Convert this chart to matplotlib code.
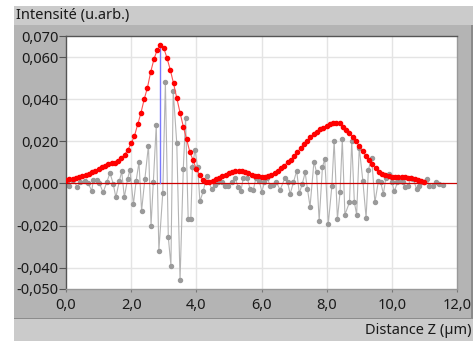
import matplotlib.pyplot as plt
import matplotlib.patches as patches
import numpy as np

# Envelope (red), sampled every 0.1 um
env_x = np.round(np.arange(0, 111) * 0.1, 2)
env_y = [0.0016, 0.0019, 0.0022, 0.0026, 0.0030, 0.0035, 0.0040, 0.0045, 0.0052, 0.0060,
         0.0070, 0.0078, 0.0085, 0.0090, 0.0095, 0.0099, 0.0105, 0.0120, 0.0137, 0.0160,
         0.0190, 0.0225, 0.0280, 0.0335, 0.0400, 0.0455, 0.0530, 0.0590, 0.0635, 0.0655,
         0.0643, 0.0595, 0.0540, 0.0475, 0.0405, 0.0336, 0.0270, 0.0210, 0.0150, 0.0110,
         0.0068, 0.0040, 0.0016, 0.0006, 0.0008, 0.0013, 0.0020, 0.0027, 0.0035, 0.0042,
         0.0049, 0.0054, 0.0057, 0.0058, 0.0057, 0.0054, 0.0048, 0.0042, 0.0037, 0.0034,
         0.0032, 0.0032, 0.0034, 0.0040, 0.0048, 0.0060, 0.0072, 0.0085, 0.0100, 0.0112,
         0.0130, 0.0148, 0.0168, 0.0185, 0.0203, 0.0220, 0.0233, 0.0245, 0.0256, 0.0265,
         0.0273, 0.0280, 0.0285, 0.0289, 0.0288, 0.0270, 0.0252, 0.0238, 0.0222, 0.0200,
         0.0178, 0.0155, 0.0132, 0.0110, 0.0090, 0.0072, 0.0055, 0.0045, 0.0038, 0.0033,
         0.0031, 0.0030, 0.0029, 0.0029, 0.0029, 0.0028, 0.0026, 0.0022, 0.0018, 0.0012,
         0.0008]

# Interferogram (gray)
sig_x = [0.02, 0.10, 0.21, 0.35, 0.43, 0.58, 0.68, 0.79, 0.84, 0.94,
         1.02, 1.14, 1.25, 1.35, 1.45, 1.53, 1.64, 1.71, 1.79, 1.89,
         1.96, 2.07, 2.15, 2.24, 2.32, 2.42, 2.53, 2.61, 2.68, 2.77,
         2.85, 2.97, 3.05, 3.14, 3.22, 3.29, 3.40, 3.50, 3.60, 3.67,
         3.75, 3.83, 3.88, 3.96, 4.04, 4.11, 4.21, 4.32, 4.47, 4.57,
         4.67, 4.78, 4.88, 4.98, 5.09, 5.19, 5.29, 5.37, 5.44, 5.56,
         5.65, 5.75, 5.83, 5.93, 6.01, 6.09, 6.18, 6.26, 6.36, 6.45,
         6.57, 6.72, 6.80, 6.88, 6.98, 7.08, 7.16, 7.25, 7.34, 7.41,
         7.49, 7.61, 7.69, 7.77, 7.87, 7.94, 8.05, 8.16, 8.23, 8.33,
         8.41, 8.48, 8.56, 8.70, 8.77, 8.85, 8.92, 9.00, 9.11, 9.21,
         9.28, 9.38, 9.48, 9.59, 9.66, 9.74, 9.82, 9.91, 10.00, 10.08,
         10.17, 10.25, 10.33, 10.40, 10.51, 10.58, 10.66, 10.76, 10.84, 10.92,
         10.99, 11.07, 11.15, 11.25, 11.36, 11.46, 11.58]
sig_y = [0.0000, -0.0014, 0.0016, -0.0016, 0.0005, 0.0013, 0.0000, -0.0035, 0.0016, 0.0016,
         0.0003, -0.0043, 0.0005, 0.0050, -0.0003, -0.0066, 0.0013, 0.0057, -0.0066, 0.0020,
         0.0065, -0.0098, 0.0010, 0.0100, -0.0130, 0.0020, 0.0180, -0.0200, 0.0005, 0.0277,
         -0.0320, -0.0045, 0.0480, -0.0256, -0.0390, 0.0440, 0.0190, -0.0460, 0.0070, 0.0310,
         -0.0170, -0.0170, 0.0080, 0.0160, 0.0076, -0.0085, -0.0038, 0.0036, -0.0027, -0.0006,
         0.0005, 0.0005, -0.0011, -0.0014, 0.0005, 0.0026, -0.0019, -0.0035, 0.0026, 0.0028,
         -0.0027, -0.0030, 0.0026, 0.0013, -0.0039, 0.0005, 0.0026, -0.0011, -0.0006, 0.0009,
         -0.0031, 0.0026, 0.0005, -0.0050, 0.0005, 0.0060, -0.0047, -0.0003, 0.0052, -0.0027,
         -0.0110, 0.0104, 0.0052, -0.0177, 0.0076, 0.0116, -0.0192, -0.0011, 0.0202, -0.0169,
         -0.0043, 0.0210, -0.0148, -0.0090, 0.0202, -0.0090, -0.0148, 0.0170, 0.0013, -0.0164,
         0.0063, 0.0123, -0.0090, 0.0013, 0.0005, -0.0050, 0.0028, 0.0045, 0.0005, -0.0038,
         0.0005, 0.0013, 0.0005, -0.0019, -0.0011, 0.0026, 0.0020, -0.0027, -0.0011, 0.0005,
         0.0009, 0.0020, -0.0011, -0.0011, 0.0005, -0.0003, -0.0006]

peak_x = 2.89
peak_y = 0.0655

x_ticks = [0, 2, 4, 6, 8, 10, 12]
y_ticks = [-0.05, -0.04, -0.02, 0.0, 0.02, 0.04, 0.06, 0.07]
y_grid = [-0.04, -0.02, 0.02, 0.04, 0.06]

plt.rcParams['font.family'] = ['Noto Sans', 'DejaVu Sans']

W, H = 473, 341
fig = plt.figure(figsize=(W / 100, H / 100), dpi=100)
fig.patch.set_facecolor('white')

def px_rect(x0, y0, x1, y1, color):
    # rectangle given in pixel coords measured from the top-left corner
    fig.patches.append(patches.Rectangle((x0 / W, 1 - y1 / H), (x1 - x0) / W, (y1 - y0) / H,
                                         transform=fig.transFigure, facecolor=color,
                                         edgecolor='none', zorder=-1))

px_rect(14, 6, 473, 25, '#cbcbcb')
px_rect(14, 25, 471, 318, '#b4b4b4')
px_rect(471, 25, 473, 318, '#8a8a8a')
px_rect(14, 318, 473, 319, '#8c8c8c')
px_rect(14, 319, 473, 341, '#cbcbcb')

fig.text(16 / W, 1 - 15 / H, 'Intensité (u.arb.)', ha='left', va='center', fontsize=10.5, color='#1a1a1a')
fig.text(471 / W, 1 - 330 / H, 'Distance Z (µm)', ha='right', va='center', fontsize=10.5, color='#1a1a1a')

ax = fig.add_axes([66 / W, 1 - 288.7 / H, 391 / W, 252.7 / H])
ax.set_zorder(2)
ax.set_facecolor('white')
ax.set_xlim(0, 12)
ax.set_ylim(-0.05, 0.07)

for gx in x_ticks[1:-1]:
    ax.axvline(gx, color='#e4e4e4', lw=1, zorder=0)
for gy in y_grid:
    ax.axhline(gy, color='#e4e4e4', lw=1, zorder=0)

ax.plot(sig_x, sig_y, color='#b4b4b4', lw=0.8, marker='o', ms=2.9,
        mfc='#9a9a9a', mec='#9a9a9a', zorder=2)
ax.axhline(0, color='#cc0000', lw=0.9, zorder=3)
ax.plot([peak_x, peak_x], [0, peak_y], color='#7878ff', lw=1, zorder=3)
ax.plot(env_x, env_y, color='#ff5050', lw=0.8, marker='o', ms=3.0,
        mfc='#ff0000', mec='#ff0000', zorder=4)

ax.set_xticks(x_ticks)
ax.set_xticklabels([f'{v:.1f}'.replace('.', ',') for v in x_ticks])
ax.set_yticks(y_ticks)
ax.set_yticklabels([f'{v:.3f}'.replace('.', ',') for v in y_ticks])
ax.tick_params(axis='y', direction='out', length=5, width=0.8, color='#555555',
               labelsize=10.5, labelcolor='#1a1a1a', pad=0.5)
ax.tick_params(axis='x', direction='out', length=2, width=0.8, color='#777777',
               labelsize=10.5, labelcolor='#1a1a1a', pad=5)

ax.spines['top'].set_color('#555555')
ax.spines['left'].set_color('#555555')
ax.spines['right'].set_color('#999999')
ax.spines['bottom'].set_color('#999999')
for s in ax.spines.values():
    s.set_linewidth(1)

fig.savefig('out.png', dpi=100)
